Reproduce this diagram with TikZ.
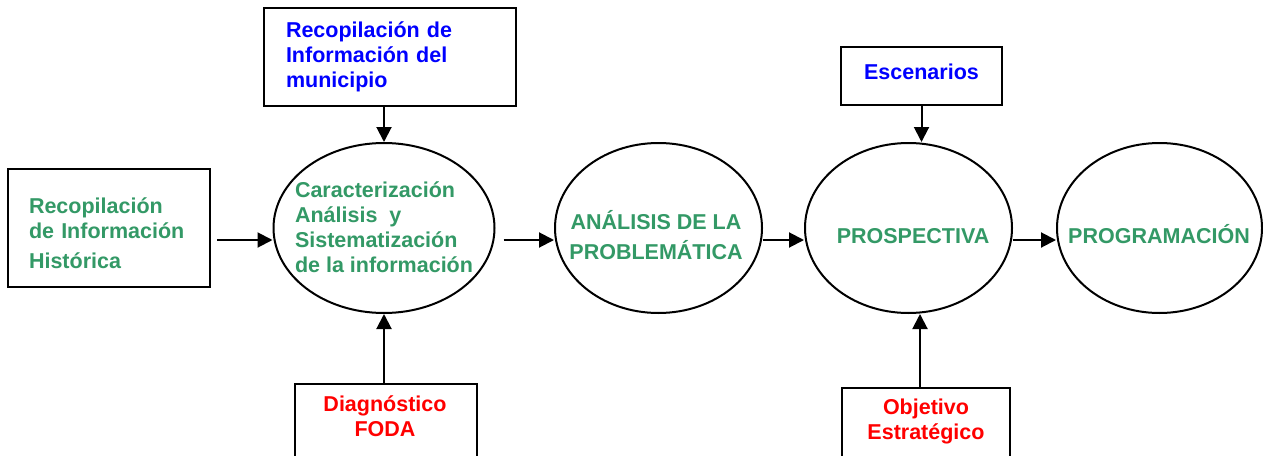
\documentclass[tikz,border=0pt]{standalone}
\usepackage{fontspec}
\setmainfont{Liberation Sans}
\usepackage{xcolor}
\usetikzlibrary{calc}
\usetikzlibrary{arrows.meta}
\usetikzlibrary{shapes.geometric}
\definecolor{verde}{RGB}{51,153,102}
\tikzset{
 texto/.style={font=\bfseries\fontsize{21.5}{25}\selectfont, inner sep=0pt},
 caja/.style={texto, draw, line width=2pt, rectangle},
 elipse/.style={draw, line width=2pt, ellipse, inner sep=0pt, minimum height=170pt},
 flecha/.style={line width=2pt, -{Triangle[length=15pt,width=15pt]}}
}
\begin{document}
\begin{tikzpicture}[x=1pt,y=-1pt]
\useasboundingbox (0,0) rectangle (1263,455);
\clip (0,0) rectangle (1263,455);
\fill[white] (0,0) rectangle (1263,455);
\coordinate (eje) at (0,240);

\node[caja, text=verde, text width=160pt, inner xsep=21pt, minimum height=118pt, align=left] (hist) at (109,228) {\rule{0pt}{26pt}Recopilación\\de Información\\[5pt]Histórica};
\node[caja, text=blue, text width=208pt, inner xsep=22pt, minimum height=98pt, align=left] (recop) at (390,57) {Recopilación de\\Información del\\municipio};
\node[caja, text=blue, text depth=8pt, minimum width=161pt, minimum height=58pt] (escen) at (921.5,76) {Escenarios};
\node[caja, minimum width=182pt, minimum height=100pt, anchor=north] (diag) at (386,383) {};
\node[texto, text=red, align=center, anchor=north] (diag-txt) at (385,395.5) {Diagnóstico\\FODA};
\node[caja, minimum width=168pt, minimum height=100pt, anchor=north] (objet) at (926,387) {};
\node[texto, text=red, align=center, anchor=north] (objet-txt) at (926,399) {Objetivo\\Estratégico};

\node[elipse, minimum width=221pt] (caract) at (384,228) {};
\node[texto, text=verde, align=left] (caract-txt) at (384,227) {Caracterización\\Análisis\ \ y\\Sistematización\\de la información};
\node[elipse, minimum width=207pt] (probl) at (658.5,228) {};
\node[texto, text=verde, align=center] (probl-txt) at (656,235) {ANÁLISIS DE LA\\[5pt]PROBLEMÁTICA};
\node[elipse, minimum width=207pt] (prosp) at (908.5,228) {};
\node[texto, text=verde] (prosp-txt) at (913,236) {PROSPECTIVA};
\node[elipse, minimum width=205pt] (prog) at (1159.5,228) {};
\node[texto, text=verde] (prog-txt) at (1159,234) {PROGRAMACIÓN};

\foreach \a/\b/\g in {hist/caract/6, caract/probl/8, probl/prosp/0, prosp/prog/0}
 \draw[flecha] ($(\a.east |- eje)+(\g,0)$) -- (\b.west |- eje);
\draw[flecha] (recop.south -| caract.north) -- (caract.north);
\draw[flecha] (diag.north -| caract.south) -- (caract.south);
\draw[flecha] (escen.south) -- (escen.south |- prosp.north);
\coordinate (objet-pie) at ($(objet.north)+(-6,0)$);
\draw[flecha] (objet-pie) -- (objet-pie |- prosp.south);
\end{tikzpicture}
\end{document}
